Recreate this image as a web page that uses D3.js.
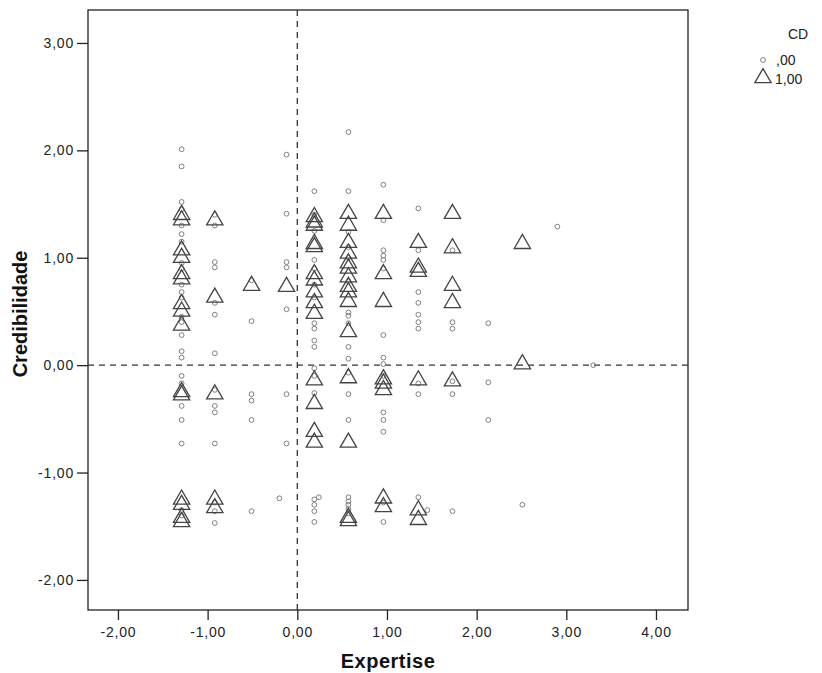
<!DOCTYPE html>
<html>
<head>
<meta charset="utf-8">
<script src="https://cdn.jsdelivr.net/npm/d3@7"></script>
<style>
  body { margin: 0; background: #fff; }
  .chart { width: 822px; height: 673px; }
  text { font-family: Arial, "Liberation Sans", sans-serif; }
</style>
</head>
<body>
<div class="chart"></div>
<script>
// tick values for both axes
const xTicks = [-2, -1, 0, 1, 2, 3, 4];
const yTicks = [-2, -1, 0, 1, 2, 3];

// CD = ,00  (small circles)  [Expertise, Credibilidade]
const cd0 = [
  [-1.29, 2.01], [-1.29, 1.85], [-1.29, 1.52], [-1.29, 1.45], [-1.29, 1.30], [-1.29, 1.22],
  [-1.29, 1.15], [-1.29, 0.95], [-1.29, 0.90], [-1.29, 0.75], [-1.29, 0.68], [-1.29, 0.63],
  [-1.29, 0.45], [-1.29, 0.40], [-1.29, 0.28], [-1.29, 0.13], [-1.29, 0.07], [-1.29, -0.10],
  [-1.29, -0.17], [-1.29, -0.38], [-1.29, -0.51], [-1.29, -0.73], [-1.29, -1.35], [-1.29, -1.40],
  [-0.92, 1.40], [-0.92, 1.30], [-0.92, 0.96], [-0.92, 0.91], [-0.92, 0.58], [-0.92, 0.47],
  [-0.92, 0.11], [-0.92, -0.23], [-0.92, -0.38], [-0.92, -0.44], [-0.92, -0.73], [-0.92, -1.28],
  [-0.92, -1.36], [-0.92, -1.47],
  [-0.51, 0.79], [-0.51, 0.41], [-0.51, -0.27], [-0.51, -0.33], [-0.51, -0.51], [-0.51, -1.36],
  [-0.12, 1.96], [-0.12, 1.41], [-0.12, 0.96], [-0.12, 0.91], [-0.12, 0.52], [-0.12, -0.27],
  [-0.12, -0.73], [-0.20, -1.24],
  [0.19, 1.62], [0.19, 1.40], [0.19, 1.25], [0.19, 0.98], [0.19, 0.90], [0.19, 0.75],
  [0.19, 0.63], [0.19, 0.39], [0.19, 0.34], [0.19, 0.23], [0.19, 0.17], [0.19, -0.03],
  [0.19, -0.10], [0.19, -0.26], [0.24, -1.23], [0.19, -1.25], [0.19, -1.30], [0.19, -1.36],
  [0.19, -1.46],
  [0.57, 2.17], [0.57, 1.62], [0.57, 1.24], [0.57, 1.10], [0.57, 1.00], [0.57, 0.78],
  [0.57, 0.49], [0.57, 0.46], [0.57, 0.39], [0.57, 0.17], [0.57, 0.06], [0.57, -0.07],
  [0.57, -0.27], [0.57, -0.51], [0.57, -1.23], [0.57, -1.27], [0.57, -1.30], [0.57, -1.34],
  [0.57, -1.38],
  [0.96, 1.68], [0.96, 1.35], [0.96, 1.07], [0.96, 1.02], [0.96, 0.98], [0.96, 0.90],
  [0.96, 0.28], [0.96, 0.07], [0.96, 0.01], [0.96, -0.10], [0.96, -0.44], [0.96, -0.51],
  [0.96, -0.62], [0.96, -1.28], [0.96, -1.46],
  [1.35, 1.46], [1.35, 1.07], [1.35, 0.68], [1.35, 0.58], [1.35, 0.47], [1.35, 0.40],
  [1.35, 0.34], [1.35, -0.17], [1.35, -0.27], [1.35, -1.23], [1.45, -1.35],
  [1.73, 1.07], [1.73, 0.40], [1.73, 0.34], [1.73, -0.15], [1.73, -0.27], [1.73, -1.36],
  [2.13, 0.39], [2.13, -0.16], [2.13, -0.51],
  [2.51, -1.30],
  [2.90, 1.29],
  [3.30, 0.00]
];

// CD = 1,00  (triangles)
const cd1 = [
  [-1.29, 1.40], [-1.29, 1.35], [-1.29, 1.07], [-1.29, 1.00], [-1.29, 0.85], [-1.29, 0.80],
  [-1.29, 0.57], [-1.29, 0.50], [-1.29, 0.37], [-1.29, -0.25], [-1.29, -0.28], [-1.29, -1.25],
  [-1.29, -1.30], [-1.29, -1.46], [-1.29, -1.42],
  [-0.92, 1.35], [-0.92, 0.63], [-0.92, -0.27], [-0.92, -1.25], [-0.92, -1.33],
  [-0.51, 0.74],
  [-0.12, 0.73],
  [0.19, 1.38], [0.19, 1.33], [0.19, 1.30], [0.19, 1.13], [0.19, 1.10], [0.19, 0.85],
  [0.19, 0.79], [0.19, 0.68], [0.19, 0.58], [0.19, 0.48], [0.19, -0.14], [0.19, -0.36],
  [0.19, -0.62], [0.19, -0.72],
  [0.57, 1.41], [0.57, 1.30], [0.57, 1.14], [0.57, 1.04], [0.57, 0.95], [0.57, 0.90],
  [0.57, 0.82], [0.57, 0.73], [0.57, 0.68], [0.57, 0.59], [0.57, 0.31], [0.57, -0.12],
  [0.57, -0.72], [0.57, -1.45], [0.57, -1.42],
  [0.96, 1.41], [0.96, 0.85], [0.96, 0.59], [0.96, -0.13], [0.96, -0.17], [0.96, -0.23],
  [0.96, -1.24], [0.96, -1.32],
  [1.35, 1.14], [1.35, 0.91], [1.35, 0.87], [1.35, -0.14], [1.35, -1.35], [1.35, -1.44],
  [1.73, 1.41], [1.73, 1.09], [1.73, 0.74], [1.73, 0.58], [1.73, -0.15],
  [2.51, 1.13], [2.51, 0.01]
];

const fmt = d => d.toFixed(2).replace('.', ',');

const width = 822, height = 673;
const padLeft = 88, padRight = 688, padTop = 10, padBottom = 610;

const svg = d3.select('.chart').append('svg')
  .attr('width', width)
  .attr('height', height);

const x = d3.scaleLinear().domain([-2.334, 4.357]).range([padLeft, padRight]);
const y = d3.scaleLinear().domain([-2.28, 3.307]).range([padBottom, padTop]);

// frame
svg.append('rect')
  .attr('x', padLeft)
  .attr('y', padTop)
  .attr('width', padRight - padLeft)
  .attr('height', padBottom - padTop)
  .style('fill', 'none')
  .style('stroke', '#222')
  .style('stroke-width', 1.3);

// axes
const xAxis = svg.append('g')
  .attr('transform', `translate(0,${padBottom})`)
  .call(d3.axisBottom(x).tickValues(xTicks).tickFormat(fmt).tickSize(10).tickSizeOuter(0).tickPadding(7));

const yAxis = svg.append('g')
  .attr('transform', `translate(${padLeft},0)`)
  .call(d3.axisLeft(y).tickValues(yTicks).tickFormat(fmt).tickSize(11).tickSizeOuter(0).tickPadding(3));

[xAxis, yAxis].forEach(a => {
  a.select('.domain').remove();
  a.selectAll('line').style('stroke', '#222').style('stroke-width', 1.3);
  a.selectAll('text').style('font-size', '14px').style('fill', '#222')
    .style('letter-spacing', '0.8px')
    .style('font-family', 'Arial, "Liberation Sans", sans-serif');
});

// reference lines
svg.append('line')
  .attr('x1', x(0)).attr('x2', x(0))
  .attr('y1', padTop).attr('y2', padBottom)
  .style('stroke', '#333').style('stroke-width', 1.3).style('stroke-dasharray', '6,5');

svg.append('line')
  .attr('x1', padLeft).attr('x2', padRight)
  .attr('y1', y(0)).attr('y2', y(0))
  .style('stroke', '#333').style('stroke-width', 1.3).style('stroke-dasharray', '6,5');

// points
const tri = d3.symbol(d3.symbolTriangle).size(115);

svg.append('g').selectAll('circle')
  .data(cd0)
  .join('circle')
  .attr('cx', d => x(d[0]))
  .attr('cy', d => y(d[1]))
  .attr('r', 2.4)
  .style('fill', 'none')
  .style('stroke', '#808080')
  .style('stroke-width', 1);

svg.append('g').selectAll('path')
  .data(cd1)
  .join('path')
  .attr('d', tri)
  .attr('transform', d => `translate(${x(d[0])},${y(d[1])})`)
  .style('fill', 'none')
  .style('stroke', '#444')
  .style('stroke-width', 1.3);

// axis titles
svg.append('text')
  .attr('x', (padLeft + padRight) / 2)
  .attr('y', 668)
  .attr('text-anchor', 'middle')
  .style('font-size', '20px')
  .style('font-weight', 'bold')
  .style('letter-spacing', '0.5px')
  .style('fill', '#111')
  .text('Expertise');

svg.append('text')
  .attr('transform', `translate(27,${(padTop + padBottom) / 2 + 4}) rotate(-90)`)
  .attr('text-anchor', 'middle')
  .style('font-size', '20px')
  .style('font-weight', 'bold')
  .style('fill', '#111')
  .text('Credibilidade');

// legend
const legend = svg.append('g');
legend.append('text')
  .attr('x', 798).attr('y', 39)
  .attr('text-anchor', 'middle')
  .style('font-size', '14px').style('fill', '#222')
  .text('CD');
legend.append('circle')
  .attr('cx', 763).attr('cy', 60).attr('r', 2.4)
  .style('fill', 'none').style('stroke', '#808080');
legend.append('text')
  .attr('x', 776).attr('y', 65)
  .style('font-size', '14px').style('fill', '#222')
  .text(',00');
legend.append('path')
  .attr('d', tri)
  .attr('transform', 'translate(763,78)')
  .style('fill', 'none').style('stroke', '#444').style('stroke-width', 1.3);
legend.append('text')
  .attr('x', 775).attr('y', 84)
  .style('font-size', '14px').style('fill', '#222')
  .text('1,00');
</script>
</body>
</html>
